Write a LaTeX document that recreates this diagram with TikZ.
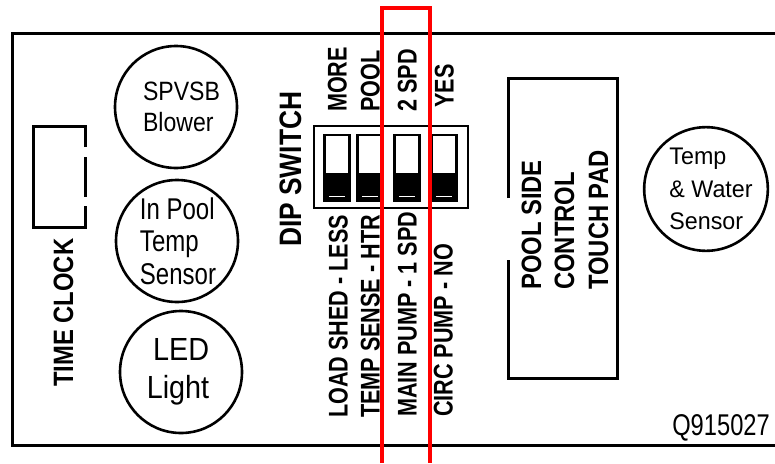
\documentclass[tikz,border=0pt]{standalone}
\usepackage{fontspec}
\setmainfont{Liberation Sans}
\newfontfamily\narA[FakeStretch=0.80]{Liberation Sans}
\newfontfamily\narB[FakeStretch=0.85]{Liberation Sans}
\newfontfamily\narC[FakeStretch=0.79]{Liberation Sans}
\newfontfamily\cirA[FakeStretch=0.87]{Liberation Sans}
\newfontfamily\cirC[FakeStretch=0.80]{Liberation Sans}
\newfontfamily\cirD[FakeStretch=0.90]{Liberation Sans}
\newfontfamily\cirB[FakeStretch=0.97]{Liberation Sans}
\begin{document}
\begin{tikzpicture}[x=1pt,y=-1pt,
  frame/.style={line width=3pt,line join=miter},
  bubble/.style={circle,draw,line width=2.6pt,minimum size=122pt,inner sep=0pt},
  dipbox/.style={draw,line width=2pt},
  slider/.style={draw,line width=2.4pt},
  knob/.style={fill=black},
  diplbl/.style={font=\narA\bfseries\fontsize{27}{32}\selectfont,rotate=90,anchor=base west,inner sep=0pt},
  biglbl/.style={rotate=90,anchor=base west,inner sep=0pt},
  redbox/.style={draw=red,line width=3.5pt}]
\useasboundingbox (0,0) rectangle (775,463);
% outer board outline (open at right)
\draw[frame] (775,33) -- (12,33) -- (12,445) -- (775,445);
% time clock bracket
\draw[frame] (85,147) -- (85,126) -- (33,126) -- (33,227) -- (85,227) -- (85,206);
\draw[frame] (85,157) -- (85,197);
\node[biglbl,font=\narB\bfseries\fontsize{28}{32}\selectfont] (tclock) at (73,387) {TIME CLOCK};
% circles
\node[bubble,align=left,font=\cirA\fontsize{26.5}{31}\selectfont] (spvsb) at (176,107) {\kern11pt SPVSB\\\kern11pt Blower};
\node[bubble,align=left,font=\cirC\fontsize{30}{32.5}\selectfont] (inpool) at (177,241) {\kern2pt In Pool\\\kern2pt Temp\\\kern2pt Sensor};
\node[bubble,align=right,font=\cirD\fontsize{32}{38}\selectfont] (led) at (181,372) {LED\kern6pt\\Light\kern6pt};
% DIP switch
\node[biglbl,font=\narB\bfseries\fontsize{31}{34}\selectfont] (dipt) at (301,247) {DIP SWITCH};
\draw[dipbox] (314,126) rectangle (468,208);
\foreach \c/\n in {337/s1,370/s2,407/s3,444/s4}{
  \fill[knob] (\c-12.5,173) rectangle (\c+12.5,201);
  \draw[slider] (\c-12.5,135) rectangle (\c+12.5,201);
  \draw[white,line width=0.9pt] (\c-8,196) -- (\c+8,196);
}
\node[diplbl] (more) at (346.7,112) {MORE};
\node[diplbl] (pool) at (379.7,112) {POOL};
\node[diplbl] (spd2) at (416.7,112) {2 SPD};
\node[diplbl] (yes)  at (453.7,108) {YES};
\node[diplbl] (load) at (347.7,418) {LOAD SHED - LESS};
\node[diplbl] (tsen) at (379.7,418) {TEMP SENSE - HTR};
\node[diplbl] (main) at (416.7,417) {MAIN PUMP - 1 SPD};
\node[diplbl] (circ) at (452.7,417) {CIRC PUMP - NO};
% pool side control touch pad
\draw[frame] (508,198) -- (508,78) -- (617,78) -- (617,378) -- (508,378) -- (508,260);
\node[biglbl,font=\narB\bfseries\fontsize{28}{32}\selectfont] (ps1) at (541,290) {POOL SIDE};
\node[biglbl,font=\narB\bfseries\fontsize{28}{32}\selectfont] (ps2) at (574,290) {CONTROL};
\node[biglbl,font=\narB\bfseries\fontsize{28}{32}\selectfont] (ps3) at (608,290) {TOUCH PAD};
% temp & water sensor
\node[bubble,align=left,font=\cirB\fontsize{24}{32.5}\selectfont] (tws) at (706,189) {\kern10pt Temp\\\kern10pt \& Water\\\kern10pt Sensor};
% part number
\node[font=\narC\fontsize{30}{32}\selectfont,anchor=base east,inner sep=0pt] (qnum) at (770,435) {Q915027};
% red highlight
\draw[redbox] (382,463) -- (382,8) -- (430,8) -- (430,463);
\end{tikzpicture}
\end{document}
